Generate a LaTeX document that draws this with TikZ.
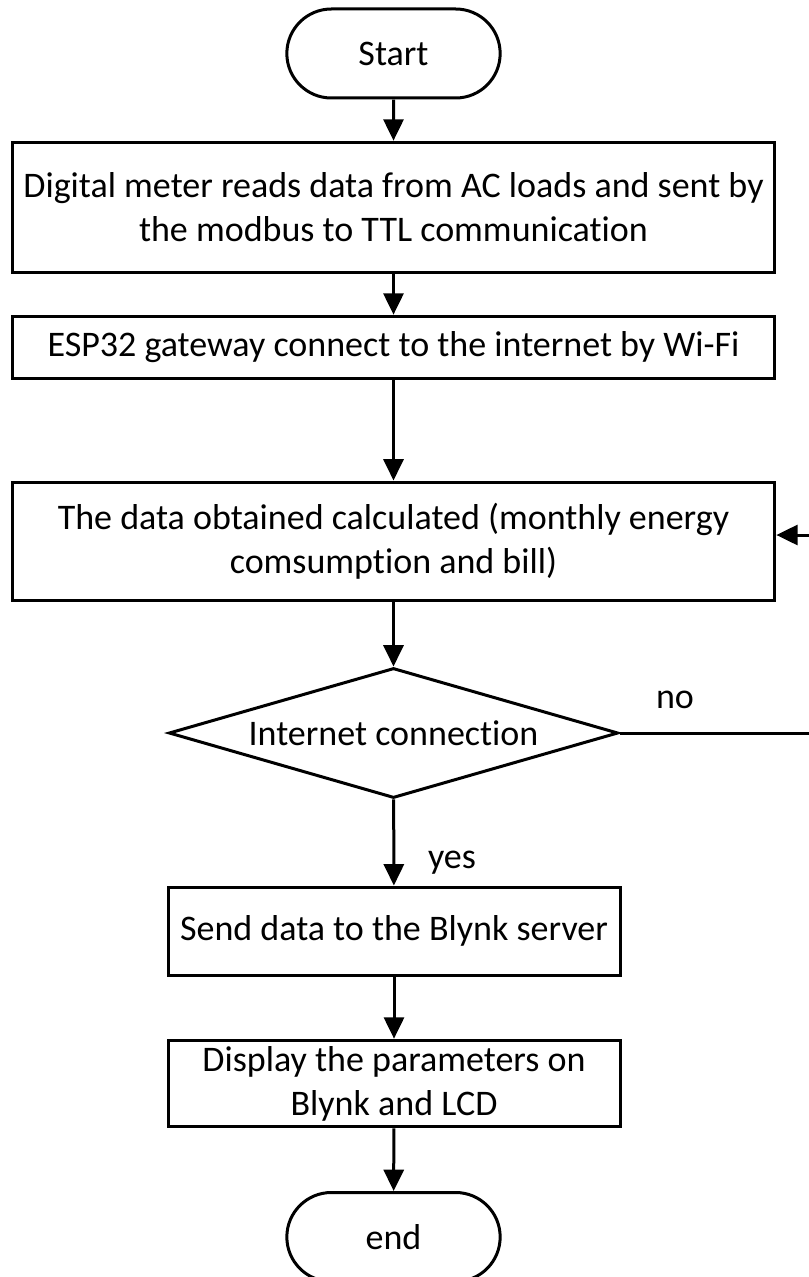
\documentclass[tikz,border=0pt]{standalone}
\usepackage{fontspec}
\setmainfont{Carlito}[Ligatures=NoCommon]
\usetikzlibrary{shapes.misc,shapes.geometric,arrows.meta}
\begin{document}
\begin{tikzpicture}[x=0.75pt,y=-0.75pt,
  font=\fontsize{27}{33}\selectfont,
  line width=2.25pt,
  term/.style={draw,rounded rectangle,minimum width=160pt,minimum height=66.75pt,inner sep=0pt},
  proc/.style={draw,rectangle,align=center,inner sep=0pt},
  dec/.style={draw,diamond,aspect=3.46,inner sep=0pt,minimum width=337pt,minimum height=97.5pt},
  arr/.style={-{Triangle[length=16pt,width=15pt]}},
  lab/.style={inner sep=0pt}]
\useasboundingbox (0,0) rectangle (808,1277);
\node[term] (start) at (393.5,53.5) {Start};
\node[proc,minimum width=572pt,minimum height=98pt] (b1) at (393.5,207.5)
  {Digital meter reads data from AC loads and sent by\\the modbus to TTL communication};
\node[proc,minimum width=572pt,minimum height=47pt] (b2) at (393.5,347.5)
  {ESP32 gateway connect to the internet by Wi-Fi};
\node[proc,minimum width=572pt,minimum height=88.5pt] (b3) at (393.5,541)
  {The data obtained calculated (monthly energy\\comsumption and bill)};
\node[dec] (d) at (393.5,733) {Internet connection};
\node[proc,minimum width=339pt,minimum height=66pt] (b4) at (394,931)
  {Send data to the Blynk server};
\node[proc,minimum width=339pt,minimum height=65pt] (b5) at (394,1083.5)
  {Display the parameters on\\Blynk and LCD};
\node[term] (end) at (393.5,1237) {end};
\node[lab] (no) at (675,700) {no};
\node[lab] (yes) at (452,863) {yes};
\coordinate (r1) at (812,733);
\coordinate (r2) at (812,535);
\draw[arr] (start) -- (b1);
\draw[arr] (b1) -- (b2);
\draw[arr] (b2) -- (b3);
\draw[arr] (b3) -- (d);
\draw[arr] (d) -- (b4);
\draw[arr] (b4) -- (b5);
\draw[arr] (b5) -- (end);
\draw[arr] (d.east) -- (r1) -- (r2) -- (b3.east |- r2);
\end{tikzpicture}
\end{document}
